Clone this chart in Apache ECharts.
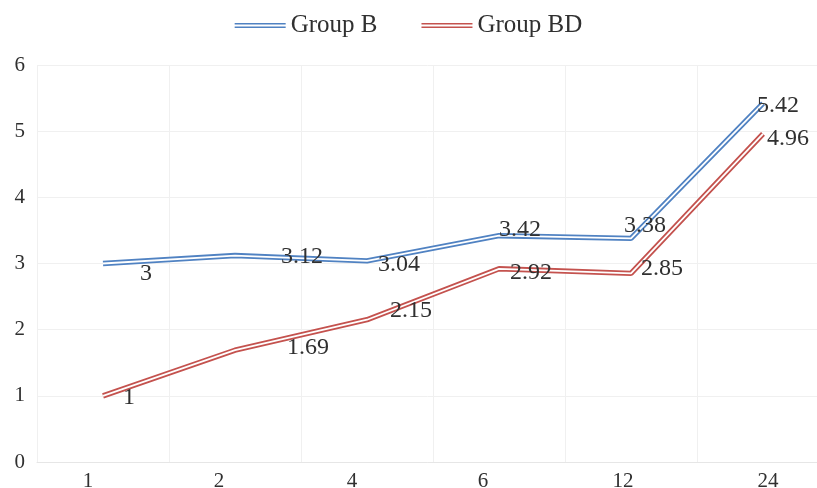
<!DOCTYPE html>
<html>
<head>
<meta charset="utf-8">
<script src="https://cdn.jsdelivr.net/npm/echarts@6/dist/echarts.min.js"></script>
<style>
  html, body { margin: 0; padding: 0; background: #fff; }
  #chart { width: 817px; height: 488px; }
</style>
</head>
<body>
<div id="chart"></div>
<script>
// Categories (months) and the two group series
const categories = ['1', '2', '4', '6', '12', '24'];
const groupB = [3, 3.12, 3.04, 3.42, 3.38, 5.42];
const groupBD = [1, 1.69, 2.15, 2.92, 2.85, 4.96];

// Label nudges (px) relative to each point
const offsetsB = [[43, 10], [67, 1], [32, 4], [21, -6], [14, -13], [15, 2]];
const offsetsBD = [[26, 2], [73, -2], [44, -9], [32, 4], [31, -5], [25, 5]];
// Horizontal nudge of each x tick label
const tickShift = [-15, -16, -15, -16, -8, 5];

const FONT = '"Liberation Serif", "DejaVu Serif", serif';
const TEXT = '#303030';
const BLUE = '#5082c2';
const RED = '#c4524e';

const rich = {};
tickShift.forEach((s, i) => {
  rich['s' + i] = {
    fontFamily: FONT, fontSize: 21, color: TEXT,
    padding: s < 0 ? [0, -2 * s, 0, 0] : [0, 0, 0, 2 * s]
  };
});

// Double-rule line: a wide coloured stroke with a thin white core on top
function outer(name, values, color) {
  return {
    name, type: 'line', data: values, symbol: 'none', z: 2,
    lineStyle: { color, width: 5.4 }, itemStyle: { color },
    emphasis: { disabled: true }
  };
}
function inner(name, values, offsets) {
  return {
    name, type: 'line', z: 3, silent: true,
    symbol: 'circle', symbolSize: 1, showSymbol: true,
    itemStyle: { color: 'rgba(255,255,255,0)' },
    lineStyle: { color: '#ffffff', width: 1.8 },
    data: values,
    label: {
      show: true, position: 'inside',
      fontFamily: FONT, fontSize: 24, color: TEXT
    },
    labelLayout: (p) => ({
      dx: offsets[p.dataIndex][0],
      dy: offsets[p.dataIndex][1],
      hideOverlap: false
    }),
    emphasis: { disabled: true }
  };
}

const chart = echarts.init(document.getElementById('chart'), null, { renderer: 'canvas' });
chart.setOption({
  animation: false,
  backgroundColor: '#ffffff',
  legend: {
    top: 8, left: 'center', itemGap: 44, itemWidth: 51, itemHeight: 5,
    textStyle: { fontFamily: FONT, fontSize: 25, color: TEXT },
    data: [
      { name: 'Group B', icon: 'path://M0,0H51V1.6H0ZM0,3.4H51V5H0Z', itemStyle: { color: BLUE } },
      { name: 'Group BD', icon: 'path://M0,0H51V1.6H0ZM0,3.4H51V5H0Z', itemStyle: { color: RED } }
    ]
  },
  grid: {
    left: 37, top: 65, width: 792, height: 397,
    containLabel: false, outerBoundsMode: 'none'
  },
  xAxis: {
    type: 'category', data: categories, boundaryGap: true,
    axisLine: { show: true, lineStyle: { color: '#e6e6e6' } },
    axisTick: { show: false },
    splitLine: { show: true, lineStyle: { color: '#f0f0f0' } },
    axisLabel: {
      margin: 9,
      formatter: (v, i) => '{s' + i + '|' + v + '}',
      rich
    }
  },
  yAxis: {
    type: 'value', min: 0, max: 6, interval: 1,
    axisLine: { show: false }, axisTick: { show: false },
    splitLine: { show: true, lineStyle: { color: '#f0f0f0' } },
    axisLabel: { margin: 12, fontFamily: FONT, fontSize: 21, color: TEXT }
  },
  series: [
    outer('Group B', groupB, BLUE),
    outer('Group BD', groupBD, RED),
    inner('Group B core', groupB, offsetsB),
    inner('Group BD core', groupBD, offsetsBD)
  ]
});
</script>
</body>
</html>
